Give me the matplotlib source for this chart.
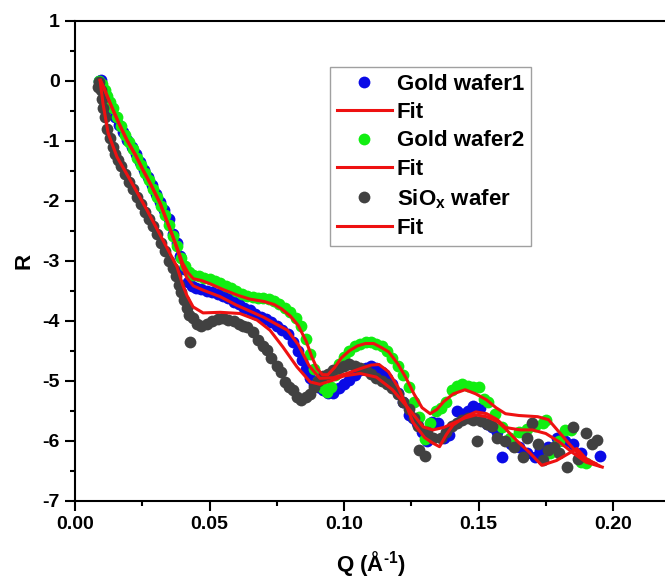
import matplotlib
matplotlib.use('Agg')
import matplotlib.pyplot as plt
from matplotlib.ticker import MultipleLocator, FormatStrFormatter

plt.rcParams['font.family'] = ['Liberation Sans', 'DejaVu Sans']
plt.rcParams['font.weight'] = 'bold'
plt.rcParams['mathtext.fontset'] = 'custom'
plt.rcParams['mathtext.rm'] = 'Liberation Sans:bold'
plt.rcParams['mathtext.bf'] = 'Liberation Sans:bold'
plt.rcParams['mathtext.it'] = 'Liberation Sans:bold'
plt.rcParams['axes.unicode_minus'] = False

# Reflectivity data (log scale), Gold wafer1
q_gold1 = [0.0090, 0.0095, 0.0100, 0.0110, 0.0120, 0.0135, 0.0150, 0.0165, 0.0180, 0.0195,
           0.0210, 0.0225, 0.0240, 0.0255, 0.0270, 0.0285, 0.0300, 0.0315, 0.0330, 0.0350,
           0.0365, 0.0378, 0.0390, 0.0405, 0.0420, 0.0435, 0.0450, 0.0470, 0.0490, 0.0510,
           0.0530, 0.0550, 0.0570, 0.0590, 0.0610, 0.0630, 0.0650, 0.0670, 0.0690, 0.0710,
           0.0730, 0.0750, 0.0770, 0.0790, 0.0810, 0.0830, 0.0845, 0.0860, 0.0875, 0.0890,
           0.0905, 0.0920, 0.0940, 0.0960, 0.0980, 0.1000, 0.1020, 0.1040, 0.1060, 0.1080,
           0.1100, 0.1120, 0.1140, 0.1160, 0.1180, 0.1200, 0.1220, 0.1240, 0.1255, 0.1270,
           0.1290, 0.1310, 0.1327, 0.1350, 0.1370, 0.1390, 0.1420, 0.1440, 0.1460, 0.1480,
           0.1506, 0.1530, 0.1550, 0.1570, 0.1587, 0.1620, 0.1650, 0.1680, 0.1710, 0.1730,
           0.1760, 0.1790, 0.1820, 0.1850, 0.1880, 0.1950]
r_gold1 = [0.00, 0.02, -0.10, -0.20, -0.30, -0.45, -0.60, -0.74, -0.86, -0.98,
           -1.10, -1.22, -1.36, -1.48, -1.60, -1.74, -1.88, -2.02, -2.15, -2.30,
           -2.55, -2.70, -2.92, -3.14, -3.35, -3.42, -3.45, -3.47, -3.50, -3.52,
           -3.55, -3.58, -3.62, -3.68, -3.72, -3.78, -3.82, -3.88, -3.93, -3.97,
           -4.02, -4.08, -4.15, -4.22, -4.35, -4.50, -4.65, -4.80, -4.95, -5.05,
           -5.10, -5.15, -5.20, -5.20, -5.12, -5.05, -4.98, -4.90, -4.82, -4.78,
           -4.75, -4.78, -4.85, -4.95, -5.05, -5.20, -5.35, -5.58, -5.62, -5.70,
           -5.85, -6.00, -5.69, -5.70, -5.95, -5.90, -5.50, -5.55, -5.50, -5.42,
           -5.46, -5.72, -5.78, -5.85, -6.27, -6.05, -6.10, -6.20, -6.28, -6.15,
           -6.10, -5.95, -6.00, -6.05, -6.20, -6.26]

# Gold wafer2
q_gold2 = [0.0090, 0.0100, 0.0110, 0.0120, 0.0130, 0.0140, 0.0155, 0.0170, 0.0185, 0.0200,
           0.0215, 0.0230, 0.0245, 0.0260, 0.0275, 0.0290, 0.0305, 0.0320, 0.0335, 0.0350,
           0.0365, 0.0380, 0.0395, 0.0410, 0.0425, 0.0440, 0.0460, 0.0480, 0.0500, 0.0520,
           0.0540, 0.0560, 0.0580, 0.0600, 0.0620, 0.0640, 0.0660, 0.0680, 0.0700, 0.0720,
           0.0740, 0.0760, 0.0780, 0.0800, 0.0820, 0.0840, 0.0860, 0.0875, 0.0890, 0.0905,
           0.0920, 0.0935, 0.0950, 0.0965, 0.0980, 0.1000, 0.1020, 0.1040, 0.1060, 0.1080,
           0.1100, 0.1120, 0.1140, 0.1160, 0.1180, 0.1200, 0.1220, 0.1240, 0.1260, 0.1280,
           0.1300, 0.1320, 0.1340, 0.1360, 0.1380, 0.1400, 0.1420, 0.1440, 0.1460, 0.1480,
           0.1500, 0.1520, 0.1535, 0.1560, 0.1587, 0.1617, 0.1650, 0.1680, 0.1710, 0.1740,
           0.1750, 0.1766, 0.1800, 0.1820, 0.1845, 0.1880, 0.1900]
r_gold2 = [0.00, -0.05, -0.15, -0.25, -0.35, -0.45, -0.60, -0.75, -0.90, -1.02,
           -1.14, -1.28, -1.40, -1.54, -1.66, -1.80, -1.93, -2.08, -2.24, -2.40,
           -2.58, -2.76, -2.95, -3.08, -3.18, -3.24, -3.25, -3.28, -3.31, -3.34,
           -3.37, -3.42, -3.46, -3.50, -3.55, -3.58, -3.60, -3.62, -3.62, -3.64,
           -3.67, -3.72, -3.78, -3.85, -3.95, -4.08, -4.30, -4.55, -4.80, -5.00,
           -5.12, -5.18, -5.10, -4.90, -4.72, -4.60, -4.50, -4.42, -4.38, -4.35,
           -4.35, -4.38, -4.42, -4.50, -4.62, -4.75, -4.90, -5.10, -5.35, -5.60,
           -5.98, -5.70, -5.50, -5.45, -5.35, -5.15, -5.08, -5.05, -5.08, -5.10,
           -5.11, -5.30, -5.36, -5.55, -5.78, -5.95, -5.85, -5.80, -5.75, -5.70,
           -5.66, -6.20, -6.00, -5.82, -5.82, -6.35, -6.38]

# SiOx wafer
q_siox = [0.0085, 0.0090, 0.0095, 0.0100, 0.0105, 0.0110, 0.0120, 0.0130, 0.0140, 0.0150,
          0.0160, 0.0170, 0.0185, 0.0200, 0.0215, 0.0230, 0.0245, 0.0260, 0.0275, 0.0290,
          0.0305, 0.0320, 0.0335, 0.0350, 0.0365, 0.0375, 0.0385, 0.0395, 0.0405, 0.0415,
          0.0425, 0.0428, 0.0440, 0.0455, 0.0470, 0.0490, 0.0510, 0.0530, 0.0550, 0.0570,
          0.0590, 0.0610, 0.0625, 0.0640, 0.0660, 0.0680, 0.0700, 0.0715, 0.0730, 0.0750,
          0.0765, 0.0780, 0.0795, 0.0810, 0.0825, 0.0840, 0.0860, 0.0875, 0.0890, 0.0905,
          0.0920, 0.0940, 0.0960, 0.0980, 0.1000, 0.1020, 0.1040, 0.1060, 0.1080, 0.1100,
          0.1120, 0.1140, 0.1160, 0.1180, 0.1200, 0.1220, 0.1240, 0.1260, 0.1275, 0.1280,
          0.1300, 0.1310, 0.1330, 0.1360, 0.1380, 0.1400, 0.1420, 0.1440, 0.1460, 0.1480,
          0.1494, 0.1510, 0.1530, 0.1550, 0.1570, 0.1600, 0.1630, 0.1665, 0.1680, 0.1700,
          0.1720, 0.1740, 0.1760, 0.1780, 0.1800, 0.1830, 0.1850, 0.1870, 0.1900, 0.1920,
          0.1940]
r_siox = [-0.10, -0.02, -0.15, -0.30, -0.45, -0.60, -0.80, -0.96, -1.10, -1.22,
          -1.32, -1.42, -1.55, -1.68, -1.80, -1.93, -2.06, -2.18, -2.30, -2.42,
          -2.56, -2.70, -2.84, -3.00, -3.12, -3.25, -3.40, -3.52, -3.65, -3.78,
          -3.90, -4.36, -3.95, -4.05, -4.08, -4.05, -4.00, -3.97, -3.95, -3.98,
          -4.00, -4.05, -4.08, -4.10, -4.18, -4.32, -4.42, -4.48, -4.62, -4.75,
          -4.85, -5.02, -5.10, -5.15, -5.28, -5.33, -5.28, -5.22, -5.10, -5.00,
          -4.92, -4.88, -4.82, -4.78, -4.75, -4.72, -4.75, -4.78, -4.82, -4.88,
          -4.95, -5.00, -5.05, -5.12, -5.22, -5.35, -5.48, -5.62, -5.75, -6.15,
          -6.25, -5.85, -5.95, -5.95, -5.85, -5.75, -5.70, -5.65, -5.62, -5.65,
          -6.00, -5.68, -5.72, -5.75, -5.96, -6.00, -6.10, -6.27, -5.95, -5.70,
          -6.05, -6.33, -6.15, -6.10, -6.20, -6.44, -5.78, -6.30, -5.88, -6.05,
          -5.99]

# Fitted curves
q_fit1 = [0.0095, 0.0110, 0.0130, 0.0160, 0.0193, 0.0225, 0.0253, 0.0285, 0.0316, 0.0340,
          0.0364, 0.0385, 0.0400, 0.0415, 0.0440, 0.0476, 0.0540, 0.0600, 0.0700, 0.0790,
          0.0830, 0.0870, 0.0910, 0.0960, 0.1010, 0.1060, 0.1100, 0.1130, 0.1165, 0.1200,
          0.1230, 0.1257, 0.1300, 0.1330, 0.1355, 0.1380, 0.1405, 0.1450, 0.1490, 0.1530,
          0.1570, 0.1600, 0.1655, 0.1700, 0.1750, 0.1800, 0.1850, 0.1900, 0.1960]
r_fit1 = [0.00, -0.15, -0.37, -0.68, -0.99, -1.24, -1.49, -1.76, -2.04, -2.32,
          -2.60, -2.88, -3.10, -3.28, -3.42, -3.49, -3.60, -3.74, -3.94, -4.16,
          -4.40, -4.75, -4.96, -4.95, -4.88, -4.80, -4.74, -4.73, -4.85, -5.10,
          -5.40, -5.70, -5.95, -6.04, -6.10, -5.90, -5.74, -5.60, -5.52, -5.55,
          -5.65, -5.78, -5.82, -5.82, -5.88, -6.02, -6.20, -6.36, -6.44]

q_fit2 = [0.0095, 0.0110, 0.0130, 0.0160, 0.0193, 0.0225, 0.0253, 0.0285, 0.0316, 0.0340,
          0.0364, 0.0385, 0.0400, 0.0420, 0.0440, 0.0470, 0.0500, 0.0550, 0.0607, 0.0650,
          0.0703, 0.0740, 0.0767, 0.0800, 0.0830, 0.0860, 0.0880, 0.0900, 0.0920, 0.0940,
          0.0965, 0.0990, 0.1020, 0.1050, 0.1080, 0.1110, 0.1140, 0.1166, 0.1200, 0.1230,
          0.1260, 0.1290, 0.1320, 0.1345, 0.1370, 0.1406, 0.1450, 0.1490, 0.1530, 0.1565,
          0.1600, 0.1650, 0.1720, 0.1760, 0.1800, 0.1850, 0.1890, 0.1935]
r_fit2 = [0.00, -0.15, -0.37, -0.68, -0.99, -1.24, -1.49, -1.76, -2.04, -2.32,
          -2.60, -2.85, -3.04, -3.20, -3.30, -3.33, -3.38, -3.48, -3.58, -3.64,
          -3.68, -3.73, -3.80, -3.92, -4.08, -4.35, -4.60, -4.80, -4.90, -4.90,
          -4.78, -4.62, -4.50, -4.42, -4.38, -4.38, -4.45, -4.52, -4.72, -4.95,
          -5.22, -5.45, -5.55, -5.48, -5.35, -5.22, -5.15, -5.22, -5.32, -5.45,
          -5.55, -5.58, -5.60, -5.65, -5.86, -6.12, -6.30, -6.38]

q_fit3 = [0.0093, 0.0104, 0.0123, 0.0156, 0.0212, 0.0268, 0.0327, 0.0379, 0.0400, 0.0416,
          0.0439, 0.0476, 0.0540, 0.0613, 0.0677, 0.0725, 0.0773, 0.0825, 0.0874, 0.0910,
          0.0960, 0.1000, 0.1060, 0.1120, 0.1180, 0.1245, 0.1294, 0.1330, 0.1370, 0.1405,
          0.1450, 0.1490, 0.1530, 0.1570, 0.1600, 0.1640, 0.1690, 0.1735, 0.1790, 0.1840,
          0.1865, 0.1900, 0.1950]
r_fit3 = [0.01, -0.38, -0.87, -1.27, -1.71, -2.16, -2.66, -3.10, -3.40, -3.58,
          -3.77, -3.87, -3.86, -3.88, -3.99, -4.16, -4.44, -4.77, -5.02, -5.06,
          -4.99, -4.92, -4.88, -4.94, -5.15, -5.49, -5.77, -5.82, -5.78, -5.71,
          -5.62, -5.57, -5.60, -5.68, -5.80, -5.99, -6.20, -6.41, -6.33, -6.20,
          -6.13, -6.30, -6.42]

fig = plt.figure(figsize=(6.65, 5.82), dpi=100)
ax = fig.add_axes([0.1128, 0.1397, 0.890, 0.8247])

ms = 8.5
p1, = ax.plot(q_gold1, r_gold1, 'o', color='#0a0ae6', ms=ms, mec='none', label='Gold wafer1')
p2, = ax.plot(q_gold2, r_gold2, 'o', color='#11ee11', ms=ms, mec='none', label='Gold wafer2')
p3, = ax.plot(q_siox, r_siox, 'o', color='#414141', ms=ms, mec='none', label='SiO$_{x}$ wafer')
f1, = ax.plot(q_fit1, r_fit1, '-', color='#ee1111', lw=2.2, label='Fit')
f2, = ax.plot(q_fit2, r_fit2, '-', color='#ee1111', lw=2.2, label='Fit')
f3, = ax.plot(q_fit3, r_fit3, '-', color='#ee1111', lw=2.2, label='Fit')

ax.set_xlim(0, 0.22)
ax.set_ylim(-7, 1)
ax.xaxis.set_major_locator(MultipleLocator(0.05))
ax.xaxis.set_minor_locator(MultipleLocator(0.025))
ax.yaxis.set_major_locator(MultipleLocator(1))
ax.yaxis.set_minor_locator(MultipleLocator(0.5))
ax.xaxis.set_major_formatter(FormatStrFormatter('%.2f'))
ax.yaxis.set_major_formatter(FormatStrFormatter('%d'))

for s in ['left', 'bottom', 'top']:
    ax.spines[s].set_linewidth(1.5)
ax.spines['right'].set_visible(False)
ax.tick_params(which='major', direction='out', length=7, width=1.5, labelsize=14, pad=4)
ax.tick_params(which='minor', direction='out', length=3.5, width=1.5)
for lbl in ax.get_xticklabels() + ax.get_yticklabels():
    lbl.set_fontweight('bold')

ax.set_xlabel('Q (Å$^{\\text{-1}}$)', fontsize=16, fontweight='bold', labelpad=12)
ax.set_ylabel('R', fontsize=16, fontweight='bold', labelpad=6)

leg = ax.legend(handles=[p1, f1, p2, f2, p3, f3], loc='upper left',
                bbox_to_anchor=(330 / 665, 1 - 67 / 582), bbox_transform=fig.transFigure,
                fontsize=16, frameon=True, fancybox=False, borderpad=0.3,
                borderaxespad=0, handlelength=2.5, handletextpad=0.2,
                labelspacing=0.33, markerscale=1.0)
leg.get_frame().set_edgecolor('#888888')
leg.get_frame().set_linewidth(1.0)
for t in leg.get_texts():
    t.set_fontweight('bold')

fig.savefig('out.png', dpi=100)
